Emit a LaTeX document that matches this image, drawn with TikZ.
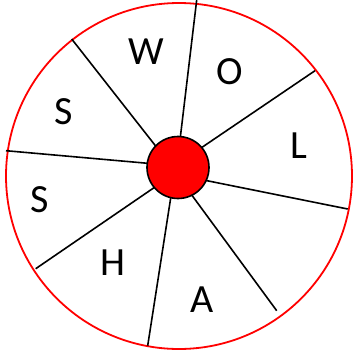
\documentclass[tikz,border=0pt]{standalone}
\usepackage{fontspec}
\setmainfont{Carlito}
\begin{document}
\begin{tikzpicture}[x=1pt,y=-1pt,
  spoke/.style={draw=black,line width=1.6pt},
  letter/.style={font=\fontsize{40}{44}\selectfont,inner sep=0pt,anchor=center}]
\useasboundingbox (0,0) rectangle (358,360);
\node[draw=red,line width=1.8pt,circle,minimum size=346pt,inner sep=0pt] (rim) at (179,176) {};
% spoke end points
\coordinate (a1) at (180,140); \coordinate (b1) at (196.7,0);
\coordinate (a2) at (158,149); \coordinate (b2) at (71.7,39);
\coordinate (a3) at (150,163.5); \coordinate (b3) at (6,150.7);
\coordinate (a4) at (155,187); \coordinate (b4) at (35.7,268.7);
\coordinate (a5) at (171,196); \coordinate (b5) at (147.7,345.7);
\coordinate (a6) at (191,194); \coordinate (b6) at (276.7,310.7);
\coordinate (a7) at (206,180.5); \coordinate (b7) at (347.7,209);
\coordinate (a8) at (201,148); \coordinate (b8) at (315,70.7);
\foreach \i in {1,...,8} \draw[spoke] (a\i) -- (b\i);
\node[circle,draw=black,fill=red,line width=1.6pt,minimum size=62pt,inner sep=0pt] (hub) at (178,167.5) {};
\node[letter] (w) at (146.7,51.5) {W};
\node[letter] (o) at (230,71.7) {O};
\node[letter] (l) at (298.5,146) {L};
\node[letter] (s1) at (63.3,111.7) {S};
\node[letter] (s2) at (40,200) {S};
\node[letter] (h) at (113,263) {H};
\node[letter] (a) at (201.7,299.7) {A};
\end{tikzpicture}
\end{document}
